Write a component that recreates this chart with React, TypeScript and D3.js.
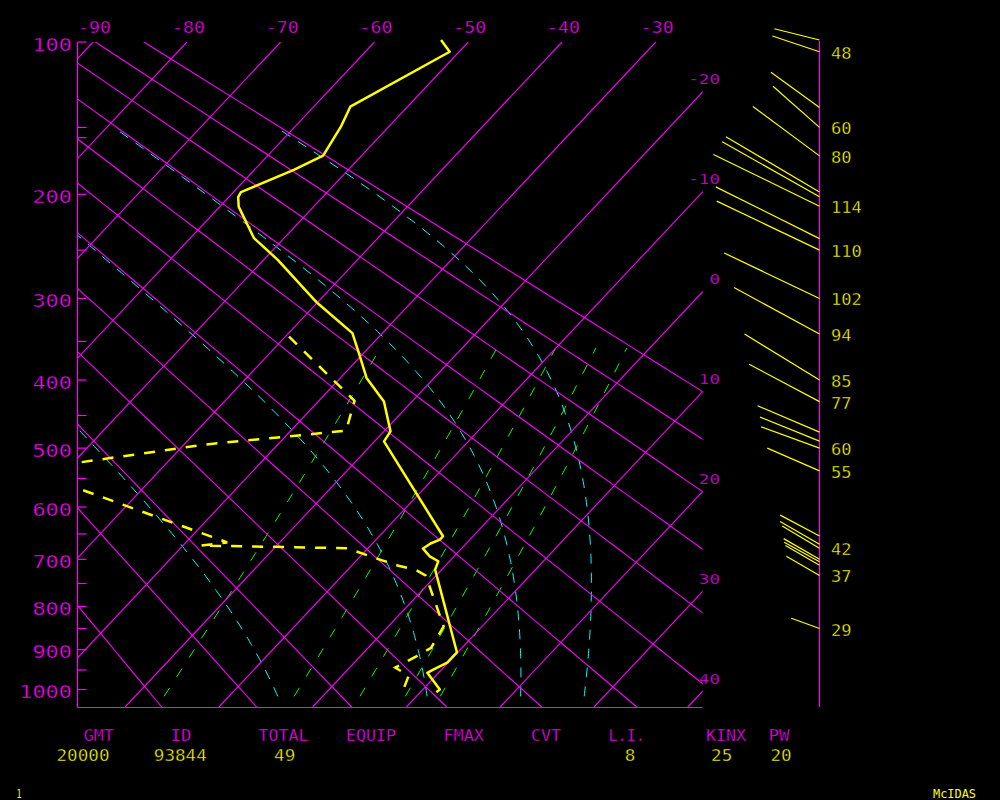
import React from "react";
import * as d3 from "d3";

// ---------------- data ----------------
const pressureLabels = [100, 200, 300, 400, 500, 600, 700, 800, 900, 1000];
const pressureTicks = [100, 150, 157, 200, 250, 300, 350, 400, 450, 500, 550, 600, 650, 700, 750, 800, 850, 900, 950, 1000];
const isotherms = [-90, -80, -70, -60, -50, -40, -30, -20, -10, 0, 10, 20, 30, 40];
const topTempLabels = [-90, -80, -70, -60, -50, -40, -30];
const rightTempLabels = [-20, -10, 0, 10, 20, 30, 40];
const dryAdiabats = [-20, -10, 0, 10, 20, 30, 40, 50, 60, 70, 80, 90]; // theta, deg C
const moistAdiabats = [0, 30, 60, 90]; // theta-e, deg C
const mixingRatios = [1, 3, 5, 7, 9]; // g/kg

const tempP = [99, 105, 136.5, 149.5, 169.8, 180.5, 198.2, 202.3, 210.3, 238.6, 259.5, 304.8, 340, 364.8, 397.2, 429.7, 473.9, 489.3, 654.5, 661, 668.6, 678.5, 694, 703.9, 721, 906.4, 931.6, 949, 957.3, 1000, 1007];
const tempT = [-53.1, -51.0, -56.1, -55.1, -54.1, -55.8, -59.2, -59.0, -58.0, -53.2, -48.5, -40.0, -33.2, -30.5, -27.2, -23.0, -19.3, -19.0, -3.2, -3.2, -3.8, -4.1, -2.6, -1.2, -0.7, 9.9, 9.9, 9.1, 8.8, 11.8, 11.7];

const dewP = [344.3, 428.8, 472.9, 494.3, 535.5, 666.4, 672.5, 677.9, 699.5, 712.9, 721.8, 733.3, 845.2, 895.4, 915.5, 944.1, 964.6, 994.9, 1002.7];
const dewT = [-39.6, -26.2, -24.1, -37.75, -54.2, -25.6, -28.1, -12.2, -7.8, -5.0, -2.7, -1.1, 5.9, 6.7, 6.0, 4.85, 7.1, 7.8, 8.7];

const windP = [99, 105, 137, 150, 170, 198, 202, 210, 239, 250, 300, 341, 400, 430, 475, 489, 500, 537, 654, 670, 678, 700, 705, 712, 733, 850];
const windDir = [284, 288.5, 306, 311.5, 306.5, 300.5, 299.5, 296, 296.5, 295.5, 295.5, 298.5, 301.5, 298, 293, 292, 290, 293.5, 298, 300, 301, 300, 299, 300, 300, 290];
const windSpd = [45, 48, 58, 60, 80, 105, 108, 114, 112, 110, 102, 94, 85, 77, 65, 62, 60, 55, 43, 44, 42, 40, 39, 38, 37, 29];
const windLabeled = [false, true, false, true, true, false, false, true, false, true, true, true, true, true, false, false, true, true, false, false, true, false, false, false, true, true];

const statNames = ["GMT", "ID", "TOTAL", "EQUIP", "FMAX", "CVT", "L.I.", "KINX", "PW"];
const statValues = ["20000", "93844", "49", "", "", "", "8", "25", "20"];

// ---------------- layout / style ----------------
const statNameX = [98.8, 181, 283.5, 371, 463.7, 546, 626.7, 726, 779];
const statNameW = [30, 21, 50, 50, 40.5, 30, 36.5, 40, 21];
const statValueX = [83, 180.3, 284.7, 0, 0, 0, 630, 721.7, 781];

const MAGENTA = "#ff00ff";
const YELLOW = "#ffff00";
const CYAN = "#00ffff";
const GREEN = "#00ff00";
const FONT = "'DejaVu Sans Mono', monospace";

const KAPPA = 0.286;
const PLOT = { left: 78, right: 702.7, top: 42, bottom: 707 };
const SKEW = 0.939;
const DRY_SHIFT = 0.6;
const MOIST_SHIFT = 0.3;
const WIND_X = 819.5;
const WIND_LEN = 1.035;

const yScale = d3.scalePow().exponent(KAPPA).domain([100, 1000]).range([42, 689.5]);
const tScale = d3.scaleLinear().domain([-80, -30]).range([186.9, 655.8]);
const sx = (T: number, p: number) => tScale(T) - SKEW * (yScale(p) - PLOT.top);
const pBottom = yScale.invert(PLOT.bottom);

const line = d3.line<[number, number]>().x((d) => d[0]).y((d) => d[1]);

function es(T: number) {
  return 6.112 * Math.exp((17.67 * T) / (T + 243.5));
}
function thetaE(T: number, p: number) {
  const K = T + 273.15;
  const e = es(T);
  if (e >= p * 0.5) return 1e9;
  const r = (0.622 * e) / (p - e);
  return K * Math.pow(1000 / p, KAPPA) * Math.exp((2.5e6 * r) / (1004 * K));
}
function moistT(te: number, p: number) {
  let lo = -130, hi = 45;
  for (let i = 0; i < 60; i++) {
    const mid = (lo + hi) / 2;
    if (thetaE(mid, p) > te) hi = mid;
    else lo = mid;
  }
  return (lo + hi) / 2;
}
function mixT(w: number, p: number) {
  const e = (w * p) / (622 + w);
  const L = Math.log(e / 6.112);
  return (243.5 * L) / (17.67 - L);
}
function pSteps(p0: number, p1: number, n: number) {
  const out: number[] = [];
  for (let i = 0; i <= n; i++) out.push(p0 + ((p1 - p0) * i) / n);
  return out;
}

function Txt(props: { x: number; y: number; text: string; size: number; len?: number; anchor?: string; fill: string; thin?: number }) {
  const { x, y, text, size, len, anchor, fill, thin } = props;
  const sw = thin === undefined ? 0.4 : thin;
  return (
    <text
      x={x}
      y={y}
      fontSize={size}
      fontFamily={FONT}
      fill={fill}
      stroke={sw > 0 ? "#000" : "none"}
      strokeWidth={sw}
      textAnchor={anchor || "start"}
      textLength={len}
      lengthAdjust={len ? "spacingAndGlyphs" : undefined}
    >
      {text}
    </text>
  );
}

export default function App() {
  const isoPaths = isotherms.map((T) =>
    line([
      [sx(T, 100), yScale(100)],
      [sx(T, pBottom), yScale(pBottom)],
    ])
  );
  const dryPaths = dryAdiabats.map((th) =>
    line(
      pSteps(60, pBottom, 40).map((p) => {
        const T = (th + 273.15) * Math.pow(p / 1000, KAPPA) - 273.15 + DRY_SHIFT;
        return [sx(T, p), yScale(p)] as [number, number];
      })
    )
  );
  const moistPaths = moistAdiabats.map((te) =>
    line(
      pSteps(1018, 150, 120).map((p) => {
        const T = moistT(te + 273.15, p) + MOIST_SHIFT;
        return [sx(T, p), yScale(p)] as [number, number];
      })
    )
  );
  const mixPaths = mixingRatios.map((w) =>
    line(pSteps(1018, 358, 40).map((p) => [sx(mixT(w, p), p), yScale(p)] as [number, number]))
  );
  const tempPath = line(tempP.map((p, i) => [sx(tempT[i], p), yScale(p)] as [number, number]));
  const dewPath = line(dewP.map((p, i) => [sx(dewT[i], p), yScale(p)] as [number, number]));

  return (
    <svg width={1000} height={800} style={{ position: "absolute", left: 0, top: 0, background: "#000" }}>
      <defs>
        <clipPath id="plotClip">
          <rect x={PLOT.left} y={PLOT.top} width={PLOT.right - PLOT.left} height={PLOT.bottom - PLOT.top} />
        </clipPath>
        <clipPath id="soundClip">
          <rect x={PLOT.left} y={0} width={PLOT.right - PLOT.left} height={PLOT.bottom} />
        </clipPath>
      </defs>
      <rect x={0} y={0} width={1000} height={800} fill="#000" />

      <g clipPath="url(#plotClip)" fill="none">
        {mixPaths.map((d, i) => (
          <path key={"m" + i} d={d || ""} stroke={GREEN} strokeWidth={1} strokeDasharray="10 13" />
        ))}
        {moistPaths.map((d, i) => (
          <path key={"w" + i} d={d || ""} stroke={CYAN} strokeWidth={1} strokeDasharray="10 9" />
        ))}
        {isoPaths.map((d, i) => (
          <path key={"t" + i} d={d || ""} stroke={MAGENTA} strokeWidth={1.1} />
        ))}
        {dryPaths.map((d, i) => (
          <path key={"d" + i} d={d || ""} stroke={MAGENTA} strokeWidth={1.1} />
        ))}
      </g>

      {/* frame */}
      <line x1={PLOT.left - 0.5} x2={PLOT.left - 0.5} y1={PLOT.top} y2={PLOT.bottom + 0.5} stroke={MAGENTA} strokeWidth={1.2} />
      <line x1={PLOT.left - 0.5} x2={PLOT.right} y1={PLOT.bottom + 0.5} y2={PLOT.bottom + 0.5} stroke={MAGENTA} strokeWidth={1.2} />
      {pressureTicks.map((p, i) => (
        <line key={"pt" + i} x1={PLOT.left} x2={PLOT.left + 8.5} y1={yScale(p)} y2={yScale(p)} stroke={MAGENTA} strokeWidth={1.2} />
      ))}
      {pressureLabels.map((p, i) => (
        <Txt key={"pl" + i} x={72} y={yScale(p) + 8.5} text={String(p)} size={17.5} len={String(p).length * 13.2} anchor="end" fill={MAGENTA} />
      ))}
      {topTempLabels.map((T, i) => (
        <Txt key={"tl" + i} x={tScale(T) + 1.5} y={33.3} text={String(T)} size={16} len={String(T).length * 11} anchor="middle" fill={MAGENTA} />
      ))}
      {rightTempLabels.map((T, i) => {
        const yEdge = PLOT.top + (tScale(T) - PLOT.right) / SKEW;
        return <Txt key={"rl" + i} x={720} y={yEdge - 7.5} text={String(T)} size={14.7} len={String(T).length * 10.6} anchor="end" fill={MAGENTA} />;
      })}

      {/* soundings */}
      <path d={tempPath || ""} fill="none" stroke={YELLOW} strokeWidth={2.5} strokeLinejoin="round" />
      <g clipPath="url(#soundClip)">
        <path d={dewPath || ""} fill="none" stroke={YELLOW} strokeWidth={2.5} strokeDasharray="11 10" />
      </g>

      {/* winds */}
      <line x1={WIND_X} x2={WIND_X} y1={41} y2={PLOT.bottom} stroke={MAGENTA} strokeWidth={1.2} />
      {windP.map((p, i) => {
        const y = yScale(p);
        const a = (windDir[i] * Math.PI) / 180;
        const L = windSpd[i] * WIND_LEN;
        return (
          <line key={"wb" + i} x1={WIND_X} y1={y} x2={WIND_X + L * Math.sin(a)} y2={y - L * Math.cos(a)} stroke={YELLOW} strokeWidth={1.2} />
        );
      })}
      {windP.map((p, i) =>
        windLabeled[i] ? (
          <Txt key={"wl" + i} x={831} y={yScale(p) + 7} text={String(windSpd[i])} size={16} len={String(windSpd[i]).length * 10.3} fill={YELLOW} />
        ) : null
      )}

      {/* stats */}
      {statNames.map((s, i) => (
        <Txt key={"sn" + i} x={statNameX[i]} y={740.7} text={s} size={16} len={statNameW[i]} anchor="middle" fill={MAGENTA} />
      ))}
      {statValues.map((s, i) =>
        s ? <Txt key={"sv" + i} x={statValueX[i]} y={760.7} text={s} size={16} len={s.length * 10.6} anchor="middle" fill={YELLOW} /> : null
      )}
      <Txt x={16.5} y={798} text="1" size={12.5} len={5} fill={YELLOW} thin={0} />
      <Txt x={933} y={797.5} text="McIDAS" size={12.5} len={43} fill={YELLOW} thin={0} />
    </svg>
  );
}
